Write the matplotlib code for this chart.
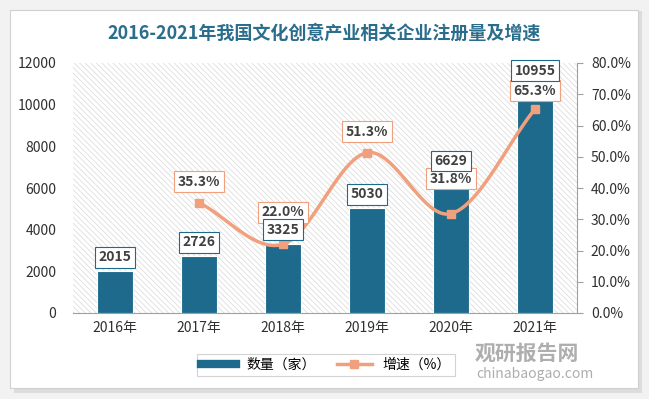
import numpy as np
import matplotlib.pyplot as plt
from matplotlib.patches import Rectangle
from matplotlib.lines import Line2D

plt.rcParams['font.family'] = ['Noto Sans CJK SC', 'DejaVu Sans']
plt.rcParams['hatch.color'] = '#d8d8d8'
plt.rcParams['hatch.linewidth'] = 0.5

# data
years = ['2016年', '2017年', '2018年', '2019年', '2020年', '2021年']
counts = [2015, 2726, 3325, 5030, 6629, 10955]
growth = [None, 35.3, 22.0, 51.3, 31.8, 65.3]

# label offsets (points) for the growth labels
growth_offsets = [15, 23, 15, 25, 13]

bar_color = '#1d6a8c'
line_color = '#f0a07c'
text_color = '#404040'

fig = plt.figure(figsize=(6.49, 3.99), dpi=100)
fig.patch.set_facecolor('#f2f2f2')

# card with shadow
fig.patches.append(Rectangle((14 / 649, 1 - 393 / 399), 628 / 649, 382 / 399,
                             transform=fig.transFigure, facecolor='#dcdcdc',
                             edgecolor='none', zorder=-2))
fig.patches.append(Rectangle((10 / 649, 1 - 388 / 399), 628 / 649, 378 / 399,
                             transform=fig.transFigure, facecolor='white',
                             edgecolor='#d0d0d0', lw=0.8, zorder=-1))

ax = fig.add_axes([73 / 649, 1 - 313 / 399, 504 / 649, 250 / 399])
ax.set_facecolor('white')
ax.patch.set_hatch('\\\\\\\\\\\\')
ax.patch.set_edgecolor('#d8d8d8')
ax.patch.set_linewidth(0)

x = np.arange(len(years))
ax.bar(x, counts, width=0.44, color=bar_color, zorder=3,
       edgecolor='white', linewidth=0.8)
ax.set_xlim(-0.5, len(years) - 0.5)
ax.set_ylim(0, 12000)
ax.set_yticks(np.arange(0, 12001, 2000))
ax.set_xticks(x)
ax.set_xticklabels(years)
for s in ['top', 'right', 'left']:
    ax.spines[s].set_visible(False)
ax.spines['bottom'].set_color('#a0a0a0')
ax.tick_params(axis='y', length=0, labelsize=10, colors='#303030', pad=12)
ax.tick_params(axis='x', length=0, labelsize=10, colors='#303030', pad=6)

ax2 = ax.twinx()
ax2.set_ylim(0, 80)
ax2.set_yticks(np.arange(0, 81, 10))
ax2.set_yticklabels([f'{v:.1f}%' for v in np.arange(0, 81, 10)])
for s in ['top', 'left', 'bottom']:
    ax2.spines[s].set_visible(False)
ax2.spines['right'].set_color('#a0a0a0')
ax2.tick_params(axis='y', length=4, direction='out', color='#a0a0a0',
                labelsize=10, labelcolor='#303030', pad=6)

# smooth curve through the growth points (Catmull-Rom rendering)
gx = np.array([i for i, g in enumerate(growth) if g is not None], float)
gy = np.array([g for g in growth if g is not None], float)
px = np.concatenate([[2 * gx[0] - gx[1]], gx, [2 * gx[-1] - gx[-2]]])
py = np.concatenate([[2 * gy[0] - gy[1]], gy, [2 * gy[-1] - gy[-2]]])
sx, sy = [], []
t = np.linspace(0, 1, 30)
for i in range(1, len(px) - 2):
    for arr, out in ((px, sx), (py, sy)):
        p0, p1, p2, p3 = arr[i - 1], arr[i], arr[i + 1], arr[i + 2]
        out.extend(0.5 * ((2 * p1) + (-p0 + p2) * t +
                          (2 * p0 - 5 * p1 + 4 * p2 - p3) * t ** 2 +
                          (-p0 + 3 * p1 - 3 * p2 + p3) * t ** 3))
ax2.plot(sx, sy, color=line_color, lw=2.5, zorder=4)
ax2.plot(gx, gy, 's', color=line_color, ms=6, zorder=5)

for xi, g, off in zip(gx, gy, growth_offsets):
    ax2.annotate(f'{g:.1f}%', (xi, g), xytext=(0, off), textcoords='offset points',
                 ha='center', va='center', fontsize=10, fontweight='bold',
                 color=text_color, zorder=6,
                 bbox=dict(boxstyle='square,pad=0.25', fc='white',
                           ec=line_color, lw=0.8))

# bar labels drawn on top
for xi, v in zip(x, counts):
    ax2.annotate(str(v), (xi, v / 12000 * 80), xytext=(0, 10),
                 textcoords='offset points',
                 ha='center', va='center', fontsize=10, fontweight='bold',
                 color=text_color, zorder=7,
                 bbox=dict(boxstyle='square,pad=0.25', fc='white',
                           ec=bar_color, lw=0.8))

fig.text(0.5, 1 - 33 / 399, '2016-2021年我国文化创意产业相关企业注册量及增速',
         ha='center', va='center', fontsize=13, fontweight='bold',
         color='#2a6d8c')

handles = [Line2D([0], [0], color=bar_color, lw=6),
           Line2D([0], [0], color=line_color, lw=2.5, marker='s', ms=6)]
leg = fig.legend(handles, ['数量（家）', '增速（%）'], loc='center',
                 bbox_to_anchor=(326 / 649, 1 - 365 / 399), ncol=2,
                 frameon=True, fontsize=10, handlelength=2.5,
                 columnspacing=1.5, fancybox=False, edgecolor='#c8c8c8',
                 borderpad=0.3)
leg.get_frame().set_linewidth(0.8)

# watermark
fig.text(475 / 649, 1 - 353 / 399, '观研报告网', ha='left', va='center',
         fontsize=15, fontweight='bold', color='#9a9a9a', alpha=0.8)
fig.text(476 / 649, 1 - 374 / 399, 'chinabaogao.com', ha='left', va='center',
         fontsize=10, color='#9a9a9a', alpha=0.8)

fig.savefig('out.png', dpi=100, facecolor=fig.get_facecolor())
